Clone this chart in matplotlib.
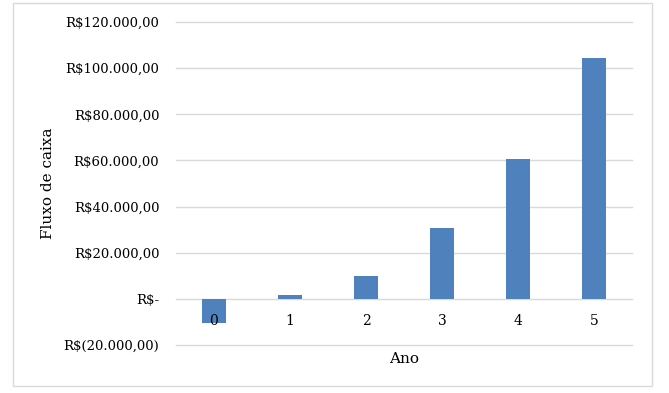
import matplotlib
matplotlib.use("Agg")
import matplotlib.pyplot as plt
from matplotlib.patches import Rectangle

# dados
anos = ["0", "1", "2", "3", "4", "5"]
fluxo = [-10400, 1800, 10000, 30800, 60700, 104500]
y_ticks = [-20000, 0, 20000, 40000, 60000, 80000, 100000, 120000]
y_labels = ["R$(20.000,00)", "R$-", "R$20.000,00", "R$40.000,00",
            "R$60.000,00", "R$80.000,00", "R$100.000,00", "R$120.000,00"]

plt.rcParams["font.family"] = ["DejaVu Serif"]

fig = plt.figure(figsize=(6.69, 3.93), dpi=100)
fig.patches.append(Rectangle((13 / 669, 1 - 386 / 393), 639 / 669, 383 / 393,
                             transform=fig.transFigure, fill=False,
                             edgecolor="#D9D9D9", linewidth=1.0))

ax = fig.add_axes([176 / 669, 1 - 345 / 393, 456 / 669, 323 / 393])
x = list(range(len(anos)))
ax.bar(x, fluxo, width=0.32, color="#4F81BD", zorder=2)

ax.set_xlim(-0.5, len(anos) - 0.5)
ax.set_ylim(-20000, 120000)
ax.set_yticks(y_ticks)
ax.set_yticklabels(y_labels, fontsize=9.5)
ax.set_xticks(x)
ax.set_xticklabels(anos, fontsize=10)

ax.spines["bottom"].set_position(("data", 0))
for s in ["top", "right", "left", "bottom"]:
    ax.spines[s].set_visible(False)
ax.tick_params(axis="y", length=0, pad=12)
ax.tick_params(axis="x", length=0, pad=11)
ax.grid(axis="y", color="#D9D9D9", linewidth=1.0)
for gl in ax.yaxis.get_gridlines():
    gl.set_clip_on(False)
ax.yaxis.set_zorder(0.5)
ax.xaxis.set_zorder(3)

ax.set_ylabel("Fluxo de caixa", fontsize=11, labelpad=6)
fig.text(404 / 669, 1 - 359 / 393, "Ano", fontsize=11, ha="center", va="center")

fig.savefig("out.png", dpi=100)
